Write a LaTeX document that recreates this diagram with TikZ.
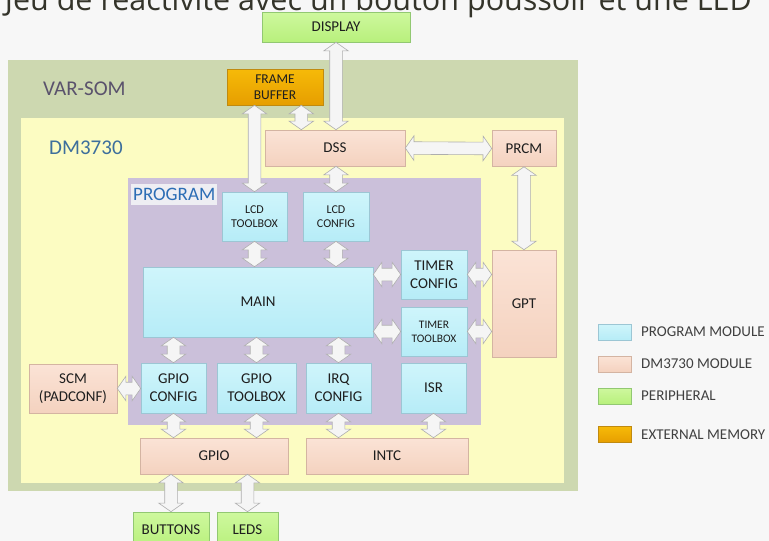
\documentclass[tikz,border=0pt]{standalone}
\usepackage{fontspec}
\setmainfont{Carlito}
\newfontfamily\headfont{Open Sans}
\usetikzlibrary{shapes.arrows,calc}

\definecolor{pagebg}{HTML}{F7F7F7}
\definecolor{titletext}{HTML}{34342A}
\definecolor{somfill}{HTML}{CDD8B0}
\definecolor{somtext}{HTML}{5A526C}
\definecolor{dmfill}{HTML}{FCFCC2}
\definecolor{dmtext}{HTML}{3D6F9C}
\definecolor{progfill}{HTML}{CBC0DA}
\definecolor{progtext}{HTML}{2C6DB5}
\definecolor{proglabelbg}{HTML}{EEEEF3}
\definecolor{modtop}{HTML}{CFF5FB}
\definecolor{modbot}{HTML}{B6ECF7}
\definecolor{modline}{HTML}{9CC6D4}
\definecolor{soctop}{HTML}{FBE3D6}
\definecolor{socbot}{HTML}{F4D2BF}
\definecolor{socline}{HTML}{D4B4A2}
\definecolor{pertop}{HTML}{CEF89E}
\definecolor{perbot}{HTML}{B8F07C}
\definecolor{perline}{HTML}{92C872}
\definecolor{memtop}{HTML}{F6BA08}
\definecolor{membot}{HTML}{E69E00}
\definecolor{memline}{HTML}{C08A10}
\definecolor{arrowfill}{HTML}{F5F5F5}
\definecolor{arrowline}{HTML}{AEAEAE}
\definecolor{boxtext}{HTML}{1E1E1E}

% block arrow with two heads between two points
\newcommand\linkarrow[2]{\path let \p1=(#1),\p2=(#2),\n1={atan2(\y2-\y1,\x2-\x1)},\n2={veclen(\x2-\x1,\y2-\y1)} in node[link,rotate=\n1,minimum height=\n2] at ($(\p1)!0.5!(\p2)$) {};}

\begin{document}
\begin{tikzpicture}[x=1pt,y=-1pt,
  base/.style={line width=0.6pt,inner sep=1pt,align=center,text=boxtext,font=\fontsize{15}{18}\selectfont},
  modbox/.style={base,draw=modline,top color=modtop,bottom color=modbot},
  socbox/.style={base,draw=socline,top color=soctop,bottom color=socbot},
  perbox/.style={base,draw=perline,top color=pertop,bottom color=perbot},
  membox/.style={base,draw=memline,top color=memtop,bottom color=membot},
  region/.style={inner sep=0pt},
  small/.style={font=\fontsize{12}{14.3}\selectfont},
  tag/.style={inner sep=0pt,anchor=west,font=\fontsize{21}{24}\selectfont},
  legend/.style={inner sep=0pt,anchor=west,text=black!75,font=\fontsize{15}{18}\selectfont},
  link/.style={double arrow,draw=arrowline,fill=arrowfill,line width=0.6pt,inner sep=0pt,inner ysep=6pt,
    double arrow head extend=6pt,double arrow tip angle=110,minimum width=1pt},
]
\useasboundingbox (0,0) rectangle (769,541);
\fill[pagebg] (0,0) rectangle (769,541);
\node[anchor=base east,inner sep=0pt,text=titletext,font=\headfont\fontsize{30.5}{34}\selectfont] (title) at (752,10)
  {Jeu de réactivité avec un bouton poussoir et une LED};

% nested regions
\node[region,fill=somfill,minimum width=570pt,minimum height=431pt] (varsom) at (293,275.5) {};
\node[region,fill=dmfill,minimum width=543pt,minimum height=365pt] (dm3730) at (292.5,300.5) {};
\node[region,fill=progfill,minimum width=353pt,minimum height=247pt] (program) at (304.5,301.5) {};
\node[tag,text=somtext] (varsomtag) at (43,89) {VAR-SOM};
\node[tag,text=dmtext] (dm3730tag) at (49,148) {DM3730};
\node[tag,fill=proglabelbg,text=progtext,font=\fontsize{19}{22}\selectfont,inner xsep=2pt,minimum height=21pt] (programtag) at (131,194.5) {PROGRAM};

% outside the board
\node[perbox,minimum width=148pt,minimum height=30pt] (display) at (336,27) {DISPLAY};
\node[membox,minimum width=96pt,minimum height=36pt,font=\fontsize{13.5}{16}\selectfont] (fb) at (275,87) {FRAME\\BUFFER};
\node[perbox,minimum width=76pt,minimum height=36pt] (buttons) at (171,530) {BUTTONS};
\node[perbox,minimum width=61pt,minimum height=36pt] (leds) at (247.5,530) {LEDS};

% DM3730 modules
\node[socbox,minimum width=140pt,minimum height=36pt] (dss) at (335,148) {DSS};
\node[socbox,minimum width=64pt,minimum height=36pt] (prcm) at (524,148.5) {PRCM};
\node[socbox,minimum width=64pt,minimum height=107pt] (gpt) at (524,303.5) {GPT};
\node[socbox,minimum width=88pt,minimum height=49pt] (scm) at (73,388.5) {SCM\\(PADCONF)};
\node[socbox,minimum width=148pt,minimum height=36pt] (gpio) at (214,456) {GPIO};
\node[socbox,minimum width=162pt,minimum height=36pt] (intc) at (387,456) {INTC};

% program modules
\node[modbox,small,minimum width=65pt,minimum height=49pt] (lcdtb) at (254.5,216.5) {LCD\\TOOLBOX};
\node[modbox,small,minimum width=66pt,minimum height=49pt] (lcdcfg) at (336,216.5) {LCD\\CONFIG};
\node[modbox,minimum width=230pt,minimum height=70pt] (main) at (258,302) {MAIN};
\node[modbox,minimum width=66pt,minimum height=49pt] (timercfg) at (434,274.5) {TIMER\\CONFIG};
\node[modbox,minimum width=66pt,minimum height=49pt,font=\fontsize{11.5}{14}\selectfont] (timertb) at (434,331.5) {TIMER\\TOOLBOX};
\node[modbox,minimum width=65pt,minimum height=50pt] (gpiocfg) at (173.5,388) {GPIO\\CONFIG};
\node[modbox,minimum width=79pt,minimum height=50pt] (gpiotb) at (256.5,388) {GPIO\\TOOLBOX};
\node[modbox,minimum width=65pt,minimum height=50pt] (irqcfg) at (338.5,388) {IRQ\\CONFIG};
\node[modbox,minimum width=65pt,minimum height=50pt] (isr) at (433.5,388) {ISR};

% links
\linkarrow{display.south}{display.south |- dss.north}
\linkarrow{[xshift=-22pt]fb.south east}{[xshift=-22pt]fb.south east |- dss.north}
\linkarrow{lcdtb.north |- fb.south}{lcdtb.north}
\linkarrow{lcdcfg.north |- dss.south}{lcdcfg.north}
\linkarrow{dss.east}{prcm.west}
\linkarrow{prcm.south}{gpt.north}
\linkarrow{lcdtb.south}{lcdtb.south |- main.north}
\linkarrow{lcdcfg.south}{lcdcfg.south |- main.north}
\linkarrow{timercfg.west -| main.east}{timercfg.west}
\linkarrow{timertb.west -| main.east}{timertb.west}
\linkarrow{timercfg.east}{timercfg.east -| gpt.west}
\linkarrow{timertb.east}{timertb.east -| gpt.west}
\linkarrow{gpiocfg.north |- main.south}{gpiocfg.north}
\linkarrow{gpiotb.north |- main.south}{gpiotb.north}
\linkarrow{irqcfg.north |- main.south}{irqcfg.north}
\linkarrow{scm.east}{scm.east -| gpiocfg.west}
\linkarrow{gpiocfg.south}{gpiocfg.south |- gpio.north}
\linkarrow{gpiotb.south}{gpiotb.south |- gpio.north}
\linkarrow{irqcfg.south}{irqcfg.south |- intc.north}
\linkarrow{isr.south}{isr.south |- intc.north}
\linkarrow{buttons.north |- gpio.south}{buttons.north}
\linkarrow{leds.north |- gpio.south}{leds.north}

% legend
\node[modbox,minimum width=33pt,minimum height=16pt] (keymod) at (614.5,332) {};
\node[socbox,minimum width=33pt,minimum height=16pt] (keysoc) at (614.5,364) {};
\node[perbox,minimum width=33pt,minimum height=16pt] (keyper) at (614.5,396) {};
\node[membox,minimum width=33pt,minimum height=16pt] (keymem) at (614.5,434.5) {};
\node[legend] (keymodtext) at (641,332) {PROGRAM MODULE};
\node[legend] (keysoctext) at (641,364) {DM3730 MODULE};
\node[legend] (keypertext) at (641,396) {PERIPHERAL};
\node[legend] (keymemtext) at (641,434.5) {EXTERNAL MEMORY};
\end{tikzpicture}
\end{document}
